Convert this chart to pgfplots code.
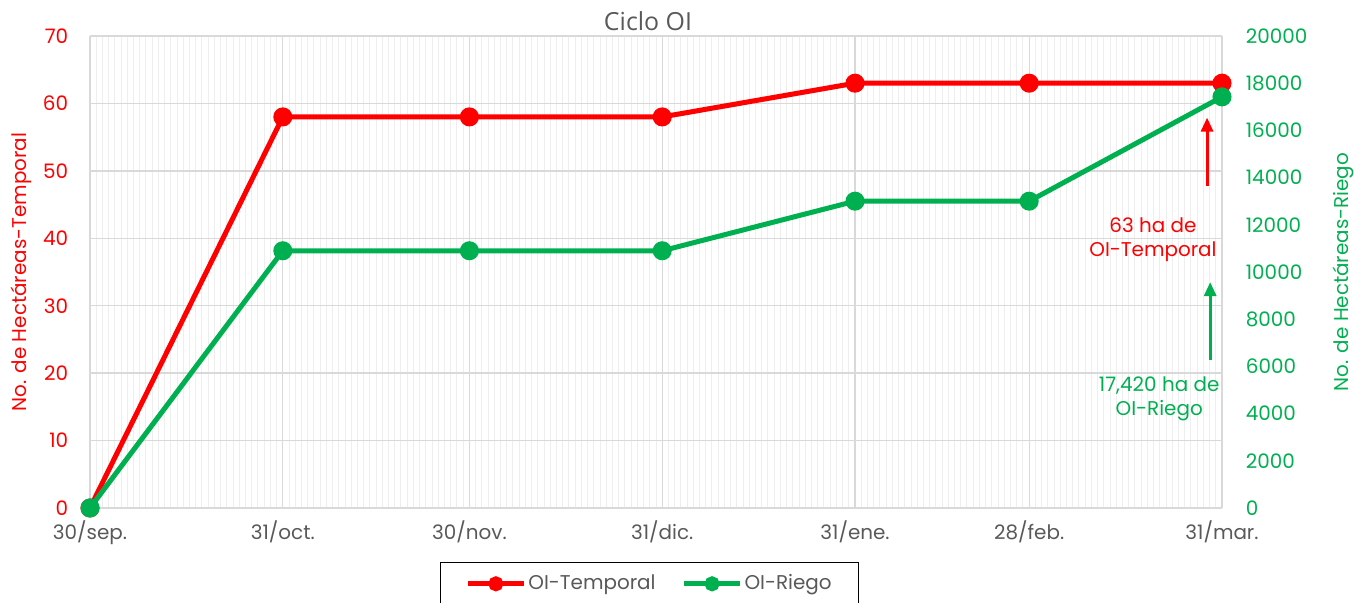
\documentclass[border=0pt]{standalone}
\usepackage{fontspec}
\setmainfont{Poppins}
\newfontfamily\titlefont{Open Sans}
\usepackage{pgfplots}
\pgfplotsset{compat=1.18}
\usetikzlibrary{arrows.meta}
\definecolor{cred}{HTML}{FF0000}
\definecolor{cgreen}{HTML}{00B050}
\definecolor{cgray}{HTML}{595959}
\definecolor{gmaj}{HTML}{D9D9D9}
\definecolor{gmin}{HTML}{EEEEEE}
\begin{document}
\fontsize{20}{24}\selectfont
\begin{tikzpicture}[x=1bp,y=1bp]
\useasboundingbox (0,0) rectangle (1354,603);
\clip (0,0) rectangle (1354,603);
\node[cgray, font=\titlefont\fontsize{25}{30}\selectfont] at (648,582) {Ciclo OI};
\begin{axis}[at={(90bp,95bp)}, anchor=south west, scale only axis,
  width=1132bp, height=472bp,
  xmin=0, xmax=182, ymin=0, ymax=70,
  clip=false,
  xtick={0,31,61,92,123,151,182},
  xticklabels={30/sep.,31/oct.,30/nov.,31/dic.,31/ene.,28/feb.,31/mar.},
  minor xtick={0,1,...,182},
  ytick={0,10,...,70},
  xmajorgrids, ymajorgrids, xminorgrids,
  major grid style={gmaj, line width=1.3bp},
  minor grid style={gmin, line width=1bp},
  axis line style={draw=none},
  major tick length=0pt, minor tick length=0pt,
  /pgf/number format/assume math mode=true,
  xticklabel style={cgray, yshift=-6bp},
  yticklabel style={cred, xshift=-15bp},
  ylabel={No. de Hectáreas-Temporal},
  ylabel style={cred, yshift=-2bp},
  legend style={at={(0.4943,-0.1144)}, anchor=north, draw=black, line width=1.5bp,
    text=cgray, inner xsep=25bp, inner ysep=10bp, /tikz/every even column/.append style={column sep=24bp}},
  legend columns=2,
  legend image code/.code={\draw[mark repeat=2,mark phase=2,#1] plot coordinates {(0bp,0bp)(28bp,0bp)(56bp,0bp)};},
]
\addplot[cred, line width=5bp, mark=*, mark size=7bp, mark options={solid}, forget plot] coordinates {
 (0,0) (31,58) (61,58) (92,58) (123,63) (151,63) (182,63)};
\addlegendimage{cred, line width=5bp, mark=*, mark size=5bp}
\addlegendentry{OI-Temporal}
\addlegendimage{cgreen, line width=5bp, mark=*, mark size=5bp}
\addlegendentry{OI-Riego}
\draw[cred, line width=3bp, -{Triangle[width=12bp,length=14bp]}] (axis cs:179.6,47.75) -- (axis cs:179.6,57.9);
\draw[cgreen, line width=3bp, -{Triangle[width=12bp,length=14bp]}] (axis cs:180.1,21.95) -- (axis cs:180.1,33.5);
\node[cred, align=center, inner sep=0pt] at (axis cs:170.9,39.8) {63 ha de\\OI-Temporal};
\node[cgreen, align=center, inner sep=0pt] at (axis cs:171.9,16.2) {17,420 ha de\\OI-Riego};
\end{axis}
\begin{axis}[at={(90bp,95bp)}, anchor=south west, scale only axis,
  width=1132bp, height=472bp,
  xmin=0, xmax=182, ymin=0, ymax=20000,
  clip=false,
  axis y line*=right, axis x line=none,
  axis line style={draw=none},
  major tick length=0pt,
  scaled y ticks=false,
  ytick={0,2000,...,20000},
  yticklabel={\pgfmathprintnumber[1000 sep={},assume math mode=true]{\tick}},
  yticklabel style={cgreen, xshift=17bp},
  ylabel={No. de Hectáreas-Riego},
  ylabel style={cgreen, yshift=-12bp},
]
\addplot[cgreen, line width=5bp, mark=*, mark size=7bp] coordinates {
 (0,0) (31,10900) (61,10900) (92,10900) (123,13000) (151,13000) (182,17420)};
\end{axis}
\end{tikzpicture}
\end{document}
